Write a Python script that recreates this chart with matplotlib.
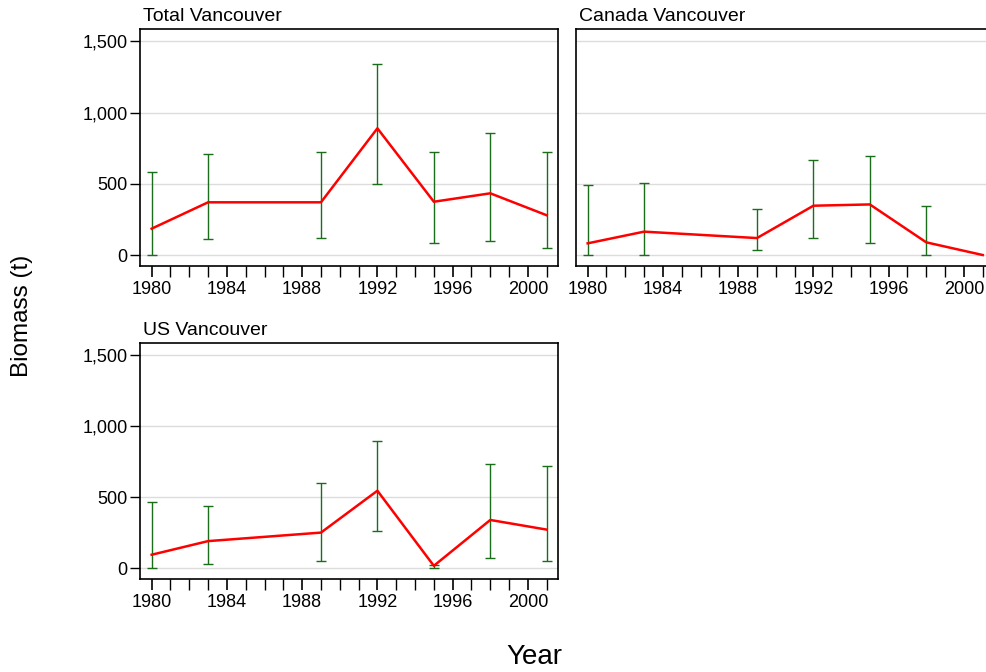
import numpy as np
import matplotlib.pyplot as plt
from matplotlib.ticker import MultipleLocator, FuncFormatter

plt.rcParams['font.family'] = ['Liberation Sans', 'DejaVu Sans']

years = [1980, 1983, 1989, 1992, 1995, 1998, 2001]

# Total Vancouver
total = [185, 370, 370, 889, 374, 433, 279]
total_lo = [0, 114, 121, 498, 86, 96, 51]
total_hi = [582, 707, 725, 1338, 725, 856, 725]

# Canada Vancouver (no interval for 2001)
canada = [82, 164, 119, 346, 355, 89, 0]
canada_lo = [0, 0, 33, 121, 82, 0, np.nan]
canada_hi = [488, 507, 320, 666, 696, 346, np.nan]

# US Vancouver
us = [94, 190, 250, 545, 16, 339, 271]
us_lo = [0, 30, 49, 260, 0, 70, 49]
us_hi = [466, 440, 601, 892, 20, 730, 721]

panels = [
    ('Total Vancouver', total, total_lo, total_hi, [140, 29, 418, 237], True),
    ('Canada Vancouver', canada, canada_lo, canada_hi, [576, 29, 418, 237], False),
    ('US Vancouver', us, us_lo, us_hi, [140, 343, 418, 236], True),
]

W, H = 987, 672
fig = plt.figure(figsize=(W / 100, H / 100), dpi=100)

for title, vals, lo, hi, (x0, y0, w, h), show_y in panels:
    ax = fig.add_axes([x0 / W, 1 - (y0 + h) / H, w / W, h / H])
    vals = np.array(vals, float)
    lo = np.array(lo, float)
    hi = np.array(hi, float)
    yerr = np.vstack([vals - lo, hi - vals])
    ok = ~np.isnan(lo)
    ax.errorbar(np.array(years)[ok], vals[ok], yerr=yerr[:, ok], fmt='none',
                ecolor='#1a6e1a', elinewidth=1.0, capsize=3.5, capthick=1.0, zorder=2)
    ax.plot(years, vals, color='#ff0000', lw=1.8, zorder=3)
    ax.set_xlim(1979.38, 2001.6)
    ax.set_ylim(-77, 1586)
    ax.xaxis.set_major_locator(MultipleLocator(4))
    ax.xaxis.set_minor_locator(MultipleLocator(1))
    ax.yaxis.set_major_locator(MultipleLocator(500))
    ax.yaxis.set_major_formatter(FuncFormatter(lambda v, p: f'{int(v):,}'))
    ax.grid(axis='y', color='#dcdcdc', lw=1.0, zorder=0)
    ax.tick_params(axis='both', which='both', direction='out', labelsize=13, color='black')
    ax.tick_params(axis='x', which='major', length=8, width=1.2, pad=3)
    ax.tick_params(axis='x', which='minor', length=8, width=1.0)
    ax.tick_params(axis='y', length=7, width=1.0, pad=2)
    if not show_y:
        ax.tick_params(axis='y', left=False, labelleft=False)
    for s in ax.spines.values():
        s.set_linewidth(1.2)
    ax.set_title(title, loc='left', fontsize=14, pad=6, x=0.008)

fig.text(22 / W, 1 - 316 / H, 'Biomass (t)', rotation=90, fontsize=17.5, ha='center', va='center')
fig.text(534 / W, 1 - 657 / H, 'Year', fontsize=20, ha='center', va='center')

fig.savefig('out.png', dpi=100)
